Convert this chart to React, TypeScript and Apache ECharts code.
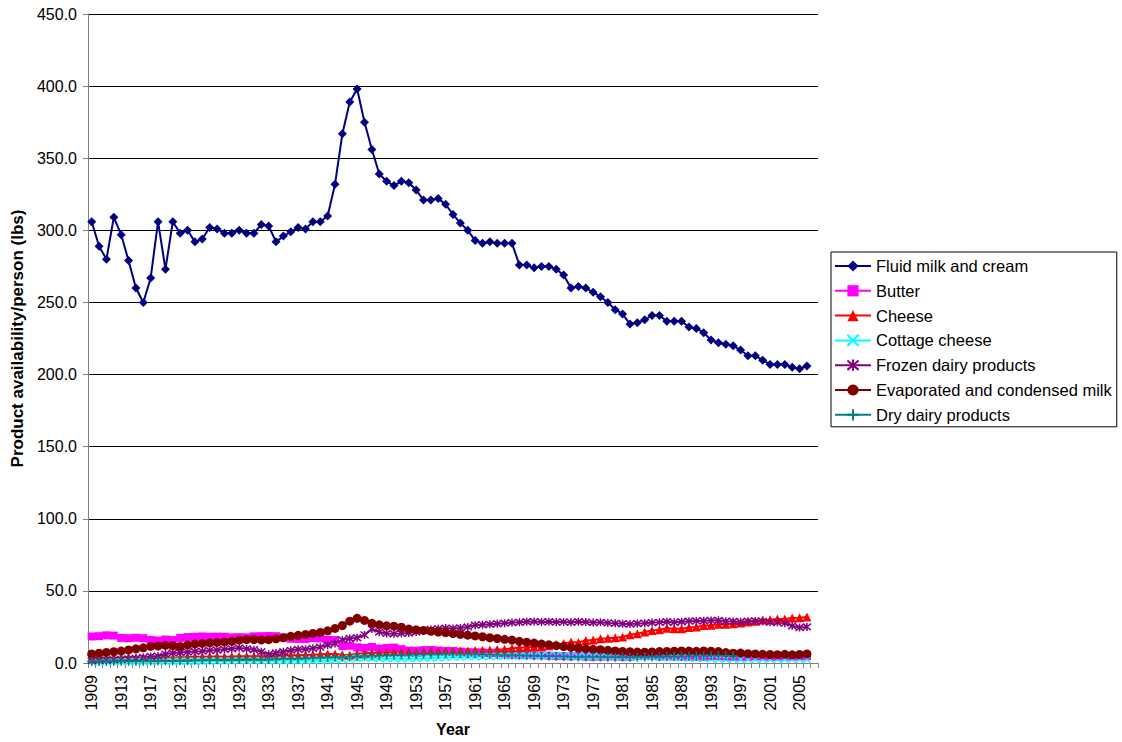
import React, { useEffect, useRef } from "react";
import * as echarts from "echarts";

const years: string[] = [];
for (let y = 1909; y <= 2007; y++) years.push(String(y));

const fluidMilk = [
  306, 289, 280, 309, 297, 279, 260, 250, 267, 306, 273, 306, 298, 300, 292, 294, 302, 301, 298, 298,
  300, 298, 298, 304, 303, 292, 296, 299, 302, 301, 306, 306, 310, 332, 367, 389, 398, 375, 356, 339,
  334, 331, 334, 333, 328, 321, 321, 322, 318, 311, 305, 300, 293, 291, 292, 291, 291, 291, 276, 276,
  274, 275, 275, 273, 269, 260, 261, 260, 257, 254, 250, 245, 242, 235, 236, 238, 241, 241, 237, 237,
  237, 233, 232, 229, 224, 222, 221, 220, 217, 213, 213, 210, 207, 207, 207, 205, 204, 206,
];

const butter = [
  18.4, 18.6, 19.2, 19.0, 17.4, 17.2, 17.5, 17.2, 16.0, 15.6, 16.3, 15.9, 17.4, 18.0, 18.2, 18.4, 18.2, 18.3, 18.2, 17.8,
  17.9, 17.8, 18.5, 18.6, 18.7, 18.6, 17.7, 16.8, 16.7, 16.6, 17.3, 17.0, 16.1, 15.9, 11.7, 11.9, 10.9, 10.5, 11.2, 10.0,
  10.5, 10.7, 9.6, 8.6, 8.5, 8.9, 9.0, 8.7, 8.3, 8.3, 7.9, 7.5, 7.4, 7.3, 6.9, 6.9, 6.4, 5.7, 5.5, 5.6,
  5.3, 5.3, 5.1, 4.9, 4.8, 4.6, 4.8, 4.4, 4.3, 4.4, 4.5, 4.5, 4.2, 4.4, 4.9, 4.9, 4.9, 4.6, 4.7, 4.5,
  4.4, 4.4, 4.2, 4.2, 4.7, 4.8, 4.4, 4.3, 4.2, 4.3, 4.7, 4.5, 4.3, 4.4, 4.5, 4.5, 4.5, 4.7,
];

const cheese = [
  3.8, 3.7, 3.6, 3.7, 3.7, 3.8, 3.8, 3.7, 3.6, 3.6, 3.8, 3.7, 4.0, 4.1, 4.3, 4.4, 4.5, 4.5, 4.4, 4.5,
  4.6, 4.7, 4.6, 4.6, 4.8, 5.0, 5.2, 5.4, 5.3, 5.6, 5.8, 6.0, 6.3, 6.2, 5.7, 5.6, 6.5, 6.7, 7.0, 7.1,
  7.2, 7.7, 7.4, 7.6, 7.5, 7.8, 7.9, 8.1, 8.0, 8.2, 8.3, 8.3, 8.6, 8.9, 9.1, 9.4, 9.6, 10.2, 10.6, 10.9,
  11.1, 11.4, 11.9, 12.9, 13.6, 14.5, 14.3, 15.6, 16.0, 16.8, 17.1, 17.5, 18.0, 19.6, 20.3, 21.5, 22.5, 23.1, 24.1, 23.7,
  23.8, 24.6, 25.0, 26.0, 26.2, 26.8, 26.9, 27.3, 27.7, 28.4, 29.0, 29.8, 30.0, 30.5, 30.5, 31.2, 31.3, 31.9,
];

const cottageCheese = [
  1.0, 1.0, 1.0, 1.0, 1.1, 1.1, 1.1, 1.1, 1.2, 1.2, 1.2, 1.2, 1.3, 1.3, 1.3, 1.3, 1.4, 1.4, 1.4, 1.4,
  1.5, 1.5, 1.5, 1.5, 1.5, 1.6, 1.6, 1.7, 1.7, 1.8, 1.8, 1.9, 2.0, 2.2, 2.6, 3.0, 3.4, 3.6, 3.4, 3.2,
  3.1, 3.1, 3.0, 3.1, 3.2, 3.3, 3.5, 3.7, 3.9, 4.1, 4.2, 4.3, 4.4, 4.5, 4.6, 4.6, 4.7, 4.8, 4.8, 4.9,
  5.0, 5.1, 5.2, 5.2, 5.0, 4.7, 4.6, 4.6, 4.6, 4.5, 4.4, 4.3, 4.2, 4.1, 4.1, 4.1, 4.1, 4.0, 3.9, 3.8,
  3.6, 3.4, 3.4, 3.1, 2.9, 2.8, 2.7, 2.6, 2.7, 2.7, 2.6, 2.6, 2.6, 2.6, 2.7, 2.6, 2.6, 2.6,
];

const frozenDairy = [
  1.5, 1.8, 2.0, 2.2, 2.5, 2.8, 3.2, 3.8, 4.5, 4.8, 6.2, 7.0, 7.3, 7.6, 8.0, 8.2, 8.8, 9.0, 9.5, 9.8,
  10.5, 9.8, 9.2, 7.8, 6.0, 7.0, 7.8, 8.8, 9.5, 9.6, 10.2, 11.0, 12.5, 13.5, 16.0, 17.0, 17.5, 19.5, 23.5, 21.5,
  20.5, 20.3, 20.5, 20.8, 21.5, 22.5, 23.3, 23.8, 24.2, 24.0, 24.3, 25.0, 26.2, 26.5, 26.8, 27.2, 27.6, 28.0, 28.2, 28.6,
  28.7, 28.5, 28.6, 28.4, 28.5, 28.2, 28.6, 28.4, 28.0, 28.2, 27.8, 27.5, 27.2, 27.0, 27.4, 27.6, 28.0, 28.2, 28.6, 28.2,
  28.6, 29.0, 29.2, 29.3, 29.5, 29.6, 29.0, 28.8, 28.6, 29.0, 29.2, 28.9, 28.2, 28.0, 27.6, 25.8, 24.6, 25.0,
];

const evapCondensed = [
  6.3, 6.8, 7.3, 7.8, 8.3, 9.0, 9.8, 10.5, 11.5, 11.8, 12.2, 12.0, 11.5, 12.5, 13.2, 13.6, 14.0, 14.3, 14.6, 15.0,
  15.8, 16.2, 16.3, 16.0, 16.2, 16.8, 17.5, 18.5, 19.2, 19.8, 20.5, 21.2, 22.3, 24.0, 26.0, 29.0, 31.0, 29.5, 27.5, 26.5,
  25.8, 25.5, 24.8, 23.5, 23.0, 22.6, 22.0, 21.5, 21.0, 20.4, 19.8, 19.3, 18.8, 18.2, 17.5, 17.0, 16.4, 15.9, 15.0, 14.4,
  13.8, 13.1, 12.6, 12.0, 11.4, 10.8, 10.3, 9.8, 9.5, 9.2, 8.8, 8.4, 8.0, 7.8, 7.6, 7.5, 7.7, 7.9, 8.0, 8.2,
  8.4, 8.3, 8.1, 8.4, 8.2, 7.9, 7.2, 6.8, 6.9, 6.5, 6.3, 6.0, 5.9, 5.8, 6.0, 5.7, 5.9, 6.3,
];

const dryDairy = [
  1.0, 1.0, 1.1, 1.1, 1.2, 1.2, 1.3, 1.3, 1.4, 1.5, 1.6, 1.6, 1.7, 1.8, 1.9, 2.0, 2.1, 2.2, 2.3, 2.4,
  2.5, 2.6, 2.6, 2.5, 2.6, 2.7, 2.9, 3.0, 3.2, 3.3, 3.5, 3.6, 3.8, 4.0, 4.2, 4.3, 4.5, 4.8, 5.0, 5.1,
  5.3, 5.4, 5.6, 5.7, 5.9, 6.0, 6.2, 6.3, 6.4, 6.5, 6.4, 6.3, 6.2, 6.0, 5.9, 5.8, 5.6, 5.5, 5.3, 5.2,
  5.0, 4.9, 4.7, 4.6, 4.5, 4.3, 4.2, 4.2, 4.1, 4.1, 4.0, 4.0, 4.1, 4.0, 4.1, 4.2, 4.3, 4.4, 4.5, 4.5,
  4.6, 4.7, 4.8, 4.9, 5.0, 5.1, 5.0, 4.9,
];

const seriesNames = [
  "Fluid milk and cream",
  "Butter",
  "Cheese",
  "Cottage cheese",
  "Frozen dairy products",
  "Evaporated and condensed milk",
  "Dry dairy products",
];

const FONT = "'Liberation Sans', Arial, sans-serif";

export default function App() {
  const ref = useRef<HTMLDivElement>(null);

  useEffect(() => {
    if (!ref.current) return;
    const chart = echarts.init(ref.current, undefined, { renderer: "svg" });

    const defs = [
      { data: fluidMilk, color: "#000080", symbol: "diamond", size: 9, stroke: false },
      { data: butter, color: "#FF00FF", symbol: "rect", size: 8, stroke: false },
      { data: cheese, color: "#FF0000", symbol: "triangle", size: 9, stroke: false },
      { data: cottageCheese, color: "#00FFFF", symbol: "path://M0,0L10,10M10,0L0,10", size: 7, stroke: true },
      { data: frozenDairy, color: "#800080", symbol: "path://M0,0L10,10M10,0L0,10M5,-1L5,11", size: 8, stroke: true },
      { data: evapCondensed, color: "#800000", symbol: "circle", size: 9, stroke: false },
      { data: dryDairy, color: "#008080", symbol: "path://M5,0L5,10M0,5L10,5", size: 9, stroke: true },
    ];

    const series = defs.map((d, i) => ({
      name: seriesNames[i],
      type: "line",
      data: d.data,
      symbol: d.symbol,
      symbolSize: d.size,
      showAllSymbol: true,
      lineStyle: { color: d.color, width: 2 },
      itemStyle: d.stroke
        ? { color: d.color, borderColor: d.color, borderWidth: 1.5 }
        : { color: d.color },
      emphasis: { disabled: true },
    }));

    chart.setOption({
      animation: false,
      backgroundColor: "#ffffff",
      textStyle: { fontFamily: FONT },
      grid: { left: 88, right: 304, top: 14, bottom: 75, containLabel: false },
      legend: {
        orient: "vertical",
        left: 831,
        top: 252,
        padding: [5.5, 5, 3.5, 3],
        itemWidth: 36,
        itemHeight: 14,
        itemGap: 7.8,
        borderColor: "#000000",
        borderWidth: 1,
        backgroundColor: "#ffffff",
        textStyle: { fontFamily: FONT, fontSize: 16.5, color: "#000", lineHeight: 17 },
        data: seriesNames,
      },
      xAxis: {
        type: "category",
        data: years,
        boundaryGap: true,
        name: "Year",
        nameLocation: "middle",
        nameGap: 58,
        nameTextStyle: { fontFamily: FONT, fontSize: 16, fontWeight: "bold", color: "#000" },
        axisLine: { lineStyle: { color: "#808080", width: 1 } },
        axisTick: { show: true, interval: 0, length: 5, lineStyle: { color: "#808080" } },
        axisLabel: {
          interval: 3,
          rotate: 90,
          margin: 12,
          fontFamily: FONT,
          fontSize: 16,
          color: "#000",
        },
        splitLine: { show: false },
      },
      yAxis: {
        type: "value",
        min: 0,
        max: 450,
        interval: 50,
        name: "Product availability/person (lbs)",
        nameLocation: "middle",
        nameGap: 62,
        nameTextStyle: { fontFamily: FONT, fontSize: 17, fontWeight: "bold", color: "#000" },
        axisLine: { show: true, lineStyle: { color: "#808080", width: 1 } },
        axisTick: { show: true, length: 5, lineStyle: { color: "#808080" } },
        axisLabel: {
          margin: 11,
          fontFamily: FONT,
          fontSize: 16,
          color: "#000",
          formatter: (v: number) => v.toFixed(1),
        },
        splitLine: { show: true, lineStyle: { color: "#000000", width: 1 } },
      },
      series,
    });

    return () => chart.dispose();
  }, []);

  return (
    <div
      ref={ref}
      style={{ position: "absolute", left: 0, top: 0, width: 1122, height: 742 }}
    />
  );
}
